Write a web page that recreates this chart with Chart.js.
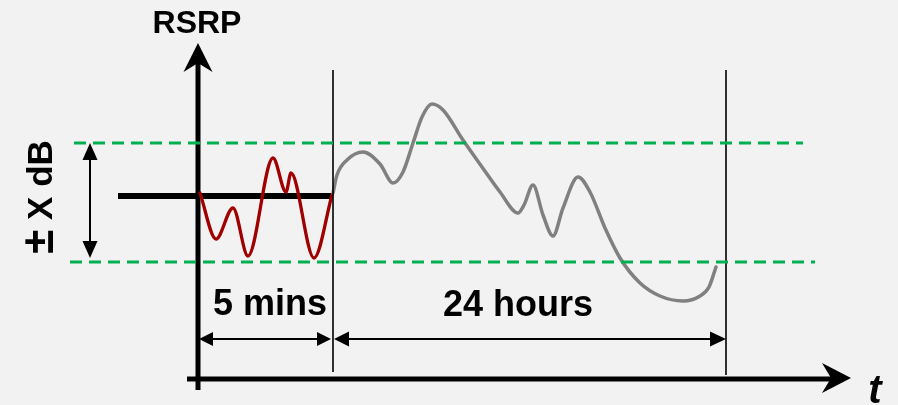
<!DOCTYPE html>
<html>
<head>
<meta charset="utf-8">
<script src="https://cdn.jsdelivr.net/npm/chart.js@4"></script>
<style>
  html, body { margin: 0; padding: 0; background: #f2f2f2; }
  canvas { display: block; }
</style>
</head>
<body>
<canvas id="chart" width="898" height="405"></canvas>
<script>
// t = diagram time units (0 at the RSRP axis), rsrp = offset from the 5 min mean
const shortT = [1, 17, 34, 49, 74, 87, 92, 115, 133];
const shortRsrp = [3, -43, -12, -60, 38, 4, 23, -62, 1];

const longT = [134, 138, 148, 164, 181, 194, 204, 214, 223, 233, 244, 264, 283, 301, 319, 325, 334,
  344, 354, 364, 379, 391, 406, 421, 441, 461, 484, 501, 510, 517];
const longRsrp = [3, 21, 36, 44, 32, 13, 24, 53, 79, 92, 86, 56, 29, 4, -17, -9, 11,
  -19, -40, -12, 19, 4, -32, -62, -87, -100, -105, -100, -91, -71];

const bandUpper = 53;
const bandLower = -66;
const windowEnds = [134, 527];

const labels = ['RSRP', '5 mins', '24 hours', 't', '±', 'X dB'];

// frame of the drawing (same units as the data)
const frame = {
  xMin: -199, xMax: 699,
  yMin: -209, yMax: 196,
};

const pts = (xs, ys) => xs.map((x, i) => ({x, y: ys[i]}));
const seg = (x0, y0, x1, y1) => [{x: x0, y: y0}, {x: x1, y: y1}];

const lineDefaults = {
  pointRadius: 0,
  fill: false,
  borderCapStyle: 'butt',
};

const datasets = [
  // green tolerance band
  {...lineDefaults, data: seg(-125, bandUpper, 604, bandUpper), borderColor: '#00b050', borderWidth: 3, borderDash: [12, 7]},
  {...lineDefaults, data: seg(-129, bandLower, 616, bandLower), borderColor: '#00b050', borderWidth: 3, borderDash: [12, 7]},
  // window boundaries
  {...lineDefaults, data: seg(windowEnds[0], 126, windowEnds[0], -176), borderColor: '#000', borderWidth: 1.6},
  {...lineDefaults, data: seg(windowEnds[1], 126, windowEnds[1], -179), borderColor: '#000', borderWidth: 1.6},
  // 24 hour trace
  {...lineDefaults, data: pts(longT, longRsrp), borderColor: '#808080', borderWidth: 3.5,
    cubicInterpolationMode: 'monotone', borderCapStyle: 'round'},
  // 5 min trace
  {...lineDefaults, data: pts(shortT, shortRsrp), borderColor: '#a00000', borderWidth: 3.3,
    cubicInterpolationMode: 'monotone', borderCapStyle: 'round'},
  // mean level
  {...lineDefaults, data: seg(-81, 0, 132, 0), borderColor: '#000', borderWidth: 6},
  // axes
  {...lineDefaults, data: seg(-1, -194, -1, 140), borderColor: '#000', borderWidth: 5},
  {...lineDefaults, data: seg(-12, -183, 635, -183), borderColor: '#000', borderWidth: 5},
  // dimension lines
  {...lineDefaults, data: seg(-109, bandUpper - 6, -109, bandLower + 10), borderColor: '#000', borderWidth: 2},
  {...lineDefaults, data: seg(6, -143, 126, -143), borderColor: '#000', borderWidth: 2},
  {...lineDefaults, data: seg(140, -143, 521, -143), borderColor: '#000', borderWidth: 2},
];

function head(ctx, tx, ty, ang, len, half, notch) {
  const c = Math.cos(ang), s = Math.sin(ang);
  const bx = tx - c * len, by = ty - s * len;
  ctx.beginPath();
  ctx.moveTo(tx, ty);
  ctx.lineTo(bx - s * half, by + c * half);
  ctx.lineTo(tx - c * (len - notch), ty - s * (len - notch));
  ctx.lineTo(bx + s * half, by - c * half);
  ctx.closePath();
  ctx.fill();
}

const decorations = {
  id: 'decorations',
  beforeDraw(chart) {
    const ctx = chart.ctx;
    ctx.save();
    ctx.fillStyle = '#f2f2f2';
    ctx.fillRect(0, 0, chart.width, chart.height);
    ctx.restore();
  },
  afterDatasetsDraw(chart) {
    const ctx = chart.ctx;
    const X = v => chart.scales.x.getPixelForValue(v);
    const Y = v => chart.scales.y.getPixelForValue(v);
    const up = -Math.PI / 2, down = Math.PI / 2, right = 0, left = Math.PI;
    ctx.save();
    ctx.fillStyle = '#000';
    // axis arrows
    head(ctx, X(-1), Y(153), up, 29, 14.5, 9);
    head(ctx, X(652), Y(-182), right, 29, 15, 9);
    // ±X dB arrow
    head(ctx, X(-109), Y(bandUpper), up, 17, 7.5, 0);
    head(ctx, X(-109), Y(bandLower + 4), down, 17, 7.5, 0);
    // time spans
    head(ctx, X(0), Y(-143), left, 14, 7, 0);
    head(ctx, X(132), Y(-143), right, 14, 7, 0);
    head(ctx, X(135), Y(-143), left, 15, 7.5, 0);
    head(ctx, X(527), Y(-143), right, 16, 7.5, 0);

    const font = 'Liberation Sans, Arial, sans-serif';
    ctx.textAlign = 'center';
    ctx.textBaseline = 'alphabetic';
    ctx.font = 'bold 32px ' + font;
    ctx.fillText(labels[0], X(-2), Y(163));
    ctx.font = 'bold 36px ' + font;
    ctx.fillText(labels[1], X(71), Y(-119));
    ctx.fillText(labels[2], X(319), Y(-120));
    ctx.font = 'italic bold 40px ' + font;
    ctx.fillText(labels[3], X(676), Y(-207));

    // rotated band label, reading bottom to top
    ctx.translate(X(-147), Y(-1));
    ctx.rotate(-Math.PI / 2);
    ctx.textAlign = 'left';
    ctx.font = 'bold 44px ' + font;
    const pm = ctx.measureText(labels[4]).width;
    ctx.font = 'bold 35px ' + font;
    const rest = ctx.measureText(' ' + labels[5]).width;
    const start = -(pm + rest) / 2;
    ctx.font = 'bold 44px ' + font;
    ctx.fillText(labels[4], start, 1);
    ctx.font = 'bold 35px ' + font;
    ctx.fillText(' ' + labels[5], start + pm, 0);
    ctx.restore();
  },
};

new Chart(document.getElementById('chart'), {
  type: 'line',
  data: {datasets},
  options: {
    responsive: false,
    animation: false,
    events: [],
    layout: {padding: 0},
    plugins: {legend: {display: false}, tooltip: {enabled: false}},
    scales: {
      x: {type: 'linear', min: frame.xMin, max: frame.xMax, display: false},
      y: {type: 'linear', min: frame.yMin, max: frame.yMax, display: false},
    },
  },
  plugins: [decorations],
});
</script>
</body>
</html>
